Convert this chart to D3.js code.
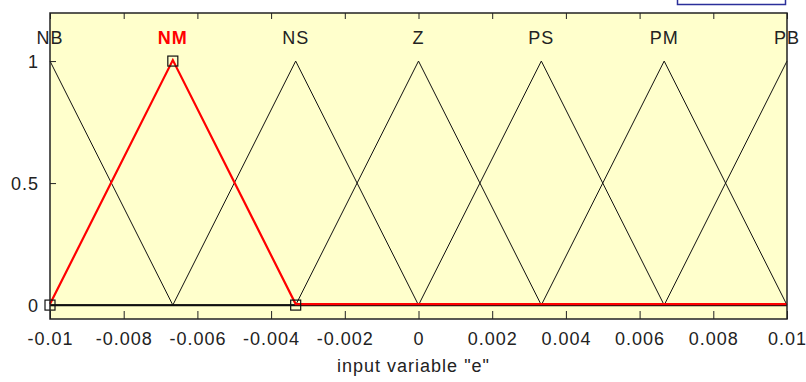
<!DOCTYPE html>
<html>
<head>
<meta charset="utf-8">
<script src="https://cdn.jsdelivr.net/npm/d3@7"></script>
<style>
  body { margin: 0; background: #fff; }
  text { font-family: "Liberation Sans", Arial, sans-serif; font-size: 18px; letter-spacing: 1px; fill: #222; }
</style>
</head>
<body>
<div id="chart"></div>
<script>
// membership functions of input "e" (triangles, vertices clipped to the range)
const mfNames = ["NB", "NM", "NS", "Z", "PS", "PM", "PB"];
const mfPeaks = [-0.01, -0.006667, -0.003333, 0, 0.003333, 0.006667, 0.01];
const mfPoints = [
    [[-0.01, 1], [-0.006667, 0], [0.01, 0]],
    [[-0.01, 0], [-0.006667, 1], [-0.003333, 0], [0.01, 0]],
    [[-0.01, 0], [-0.006667, 0], [-0.003333, 1], [0, 0], [0.01, 0]],
    [[-0.01, 0], [-0.003333, 0], [0, 1], [0.003333, 0], [0.01, 0]],
    [[-0.01, 0], [0, 0], [0.003333, 1], [0.006667, 0], [0.01, 0]],
    [[-0.01, 0], [0.003333, 0], [0.006667, 1], [0.01, 0]],
    [[-0.01, 0], [0.006667, 0], [0.01, 1]]
];
const selected = 1;
const selectedVertices = [[-0.01, 0], [-0.006667, 1], [-0.003333, 0]];

const xTicks = [-0.01, -0.008, -0.006, -0.004, -0.002, 0, 0.002, 0.004, 0.006, 0.008, 0.01];
const xTickLabels = ["-0.01", "-0.008", "-0.006", "-0.004", "-0.002", "0", "0.002", "0.004", "0.006", "0.008", "0.01"];
const yTicks = [0, 0.5, 1];
const yTickLabels = ["0", "0.5", "1"];
const xLabel = 'input variable "e"';

const W = 806, H = 382;
const margin = { top: 13, right: 19, bottom: 63, left: 50 };
const width = W - margin.left - margin.right;
const height = H - margin.top - margin.bottom;

const svg = d3.select("#chart").append("svg")
    .attr("width", W).attr("height", H);

// bit of the frame above (blue bracket in the corner)
svg.append("path")
    .attr("d", "M677.5,0 V4.5 H785.5 V0")
    .attr("fill", "none").attr("stroke", "#2b2f9a").attr("stroke-width", 1.5);

const g = svg.append("g").attr("transform", `translate(${margin.left},${margin.top})`);

const x = d3.scaleLinear().domain([-0.01, 0.01]).range([0, width]);
const y = d3.scaleLinear().domain([-0.057, 1.197]).range([height, 0]);

g.append("rect").attr("width", width).attr("height", height).attr("fill", "#ffffcc");

// ticks inside the box, bottom and top
g.append("g").attr("transform", `translate(0,${height})`)
    .call(d3.axisBottom(x).tickValues(xTicks).tickSizeInner(-8).tickSizeOuter(0).tickFormat((d, i) => xTickLabels[i]))
    .call(a => a.select(".domain").remove())
    .call(a => a.selectAll("line").attr("stroke", "#222"))
    .call(a => a.selectAll("text").attr("y", 26).attr("dy", 0).style("font-size", "18px").attr("fill", "#222"));

g.append("g")
    .call(d3.axisTop(x).tickValues(xTicks).tickSizeInner(-6).tickSizeOuter(0).tickFormat(""))
    .call(a => a.select(".domain").remove())
    .call(a => a.selectAll("line").attr("stroke", "#222"));

g.append("g")
    .call(d3.axisLeft(y).tickValues(yTicks).tickSizeInner(-6).tickSizeOuter(0).tickFormat((d, i) => yTickLabels[i]))
    .call(a => a.select(".domain").remove())
    .call(a => a.selectAll("line").attr("stroke", "#222"))
    .call(a => a.selectAll("text").attr("x", -11).attr("dy", "0.35em").style("font-size", "18px").attr("fill", "#222"));

// zero line
g.append("line")
    .attr("x1", 0).attr("x2", width)
    .attr("y1", y(0) + 0.5).attr("y2", y(0) + 0.5)
    .attr("stroke", "#111").attr("stroke-width", 1.2);

const line = d3.line().x(d => x(d[0])).y(d => y(d[1]));

mfPoints.forEach((pts, i) => {
    if (i === selected) return;
    g.append("path").attr("d", line(pts))
        .attr("fill", "none").attr("stroke", "#111").attr("stroke-width", 1);
});

g.append("path").attr("d", line(mfPoints[selected]))
    .attr("transform", "translate(0,-1)")
    .attr("fill", "none").attr("stroke", "#ff0000").attr("stroke-width", 2.2);

g.selectAll(".vertex").data(selectedVertices).enter().append("rect")
    .attr("class", "vertex")
    .attr("x", d => x(d[0]) - 5).attr("y", d => y(d[1]) - 5)
    .attr("width", 10).attr("height", 10)
    .attr("fill", "none").attr("stroke", "#111").attr("stroke-width", 1.2);

// mf names above the peaks
g.selectAll(".mfname").data(mfNames).enter().append("text")
    .attr("class", "mfname")
    .attr("x", (d, i) => x(mfPeaks[i]))
    .attr("y", y(1.1) + 7)
    .attr("text-anchor", "middle")
    .style("fill", (d, i) => i === selected ? "#ff0000" : "#222")
    .style("font-weight", (d, i) => i === selected ? "bold" : "normal")
    .text(d => d);

// box
g.append("rect").attr("width", width).attr("height", height)
    .attr("fill", "none").attr("stroke", "#222").attr("stroke-width", 1.5);

svg.append("text")
    .attr("x", margin.left + x(0) - 5)
    .attr("y", 372)
    .attr("text-anchor", "middle")
    .text(xLabel);
</script>
</body>
</html>
